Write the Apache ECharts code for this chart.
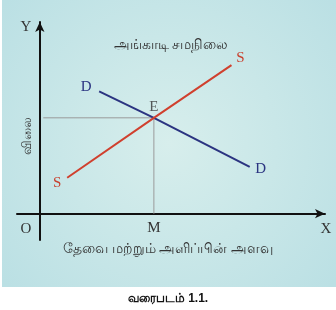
<!DOCTYPE html>
<html><head><meta charset="utf-8">
<script src="https://cdn.jsdelivr.net/npm/echarts@6/dist/echarts.min.js"></script>
<style>html,body{margin:0;padding:0;background:#fff}#c{width:336px;height:310px}</style>
</head><body><div id="c"></div>
<script>
// Data (arbitrary units: quantity on x, price on y)
var supplyPoints = [[1.2, 1.5], [5, 4], [8.4, 6.2]];
var demandPoints = [[2.6, 5.1], [5, 4], [9.2, 1.95]];
var equilibrium = [5, 4];
var dropLine = [[0.15, 4], [5, 4], [5, 0]];
var xTickValues = [5];
var xTickLabels = ['M'];
var titleText = 'அங்காடி சமநிலை';
var xAxisTitle = 'தேவை மற்றும் அளிப்பின் அளவு';
var yAxisTitle = 'விலை';
var captionText = 'வரைபடம் 1.1.';

var serif = '"Liberation Serif", "DejaVu Serif", serif';
var chart = echarts.init(document.getElementById('c'), null, {renderer: 'canvas'});

function endLabel(text, color, offset) {
  return {show: true, formatter: text, position: 'inside', offset: offset,
    color: color, fontFamily: serif, fontSize: 15};
}

chart.setOption({
  animation: false,
  grid: {left: 17, right: 11, top: 22, bottom: 70},
  graphic: [
    {type: 'rect', z: -10, silent: true, shape: {x: 2, y: 0, width: 334, height: 287},
     style: {fill: new echarts.graphic.RadialGradient(0.5, 0.5, 0.75, [
       {offset: 0, color: '#d7eeec'}, {offset: 1, color: '#bbe0e4'}])}},
    {type: 'text', x: 171, y: 45, style: {text: titleText, fontSize: 14, fill: '#333', align: 'center', verticalAlign: 'middle'}},
    {type: 'text', x: 26, y: 27, style: {text: 'Y', fontSize: 15, fill: '#333', fontFamily: serif, align: 'center', verticalAlign: 'middle'}},
    {type: 'text', x: 26, y: 229, style: {text: 'O', fontSize: 15, fill: '#333', fontFamily: serif, align: 'center', verticalAlign: 'middle'}},
    {type: 'text', x: 326, y: 229, style: {text: 'X', fontSize: 15, fill: '#333', fontFamily: serif, align: 'center', verticalAlign: 'middle'}},
    {type: 'text', x: 168, y: 249, style: {text: xAxisTitle, fontSize: 14, fill: '#333', align: 'center', verticalAlign: 'middle'}},
    {type: 'text', x: 27, y: 136, rotation: Math.PI / 2, style: {text: yAxisTitle, fontSize: 13, fill: '#333', align: 'center', verticalAlign: 'middle'}},
    {type: 'text', x: 168, y: 299, style: {text: captionText, fontSize: 12, fontWeight: 'bold', fill: '#111', align: 'center', verticalAlign: 'middle'}}
  ],
  xAxis: {
    type: 'value', min: -1, max: 12.5,
    axisLine: {onZero: true, lineStyle: {color: '#111', width: 2}, symbol: ['none', 'arrow'], symbolSize: [7, 10]},
    axisTick: {show: false},
    splitLine: {show: false},
    axisLabel: {customValues: xTickValues, formatter: function (v) { var i = xTickValues.indexOf(v); return i >= 0 ? xTickLabels[i] : ''; },
      color: '#333', fontFamily: serif, fontSize: 15, margin: -19}
  },
  yAxis: {
    type: 'value', min: -1.1, max: 8,
    axisLine: {onZero: true, lineStyle: {color: '#111', width: 2}, symbol: ['none', 'arrow'], symbolSize: [7, 10]},
    axisTick: {show: false},
    splitLine: {show: false},
    axisLabel: {show: false}
  },
  series: [
    {type: 'line', data: dropLine, symbol: 'none', silent: true,
     lineStyle: {color: '#9a9a9a', width: 1}, z: 1},
    {type: 'line', silent: true, symbol: 'none', lineStyle: {color: '#d0402e', width: 2}, z: 3,
     data: supplyPoints.map(function (p, i) {
       var d = {value: p};
       if (i === 0) { d.symbol = 'circle'; d.symbolSize = 0; d.label = endLabel('S', '#c8402e', [-10, 5]); }
       if (i === supplyPoints.length - 1) { d.symbol = 'circle'; d.symbolSize = 0; d.label = endLabel('S', '#c8402e', [9, -7]); }
       return d;
     }), showAllSymbol: true},
    {type: 'line', silent: true, symbol: 'none', lineStyle: {color: '#2b3481', width: 2}, z: 2,
     data: demandPoints.map(function (p, i) {
       var d = {value: p};
       if (i === 0) { d.symbol = 'circle'; d.symbolSize = 0; d.label = endLabel('D', '#2b3481', [-13, -4]); }
       if (i === demandPoints.length - 1) { d.symbol = 'circle'; d.symbolSize = 0; d.label = endLabel('D', '#2b3481', [11, 2]); }
       return d;
     }), showAllSymbol: true},
    {type: 'scatter', silent: true, symbolSize: 0, z: 4,
     data: [{value: equilibrium, label: {show: true, formatter: 'E', position: 'inside', offset: [0, -11], color: '#333', fontFamily: serif, fontSize: 15}}]}
  ]
});
</script></body></html>
